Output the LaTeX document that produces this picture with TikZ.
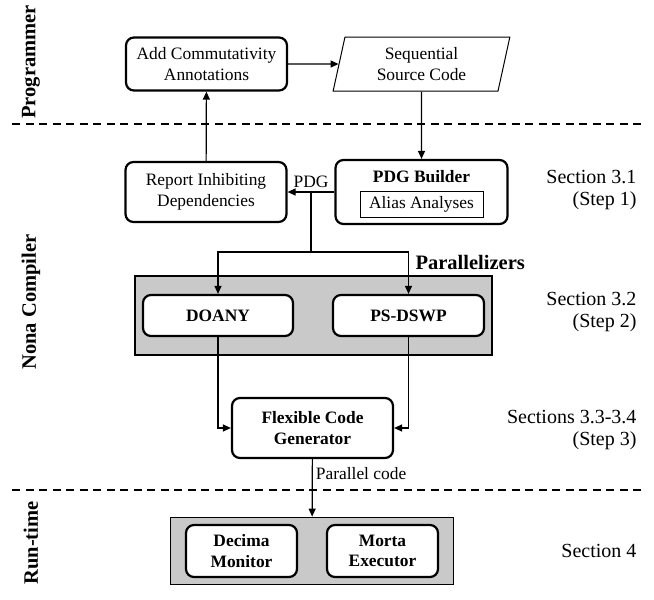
\documentclass[tikz,border=0pt]{standalone}
\usepackage{fontspec}
\setmainfont{Liberation Serif}
\usetikzlibrary{shapes.geometric}
\usetikzlibrary{arrows.meta}
\usetikzlibrary{positioning}
\usetikzlibrary{fit}
\usetikzlibrary{backgrounds}

\begin{document}
\begin{tikzpicture}[x = 1pt, y = -1pt, node distance = 215pt,
	font = \fontsize{17.4}{20.5}\selectfont,
	proc/.style = {draw, rounded corners = 8pt, line width = 2.2pt, align = center, inner sep = 2pt, fill = white},
	boldtxt/.style = {font = \fontsize{17.4}{20.5}\selectfont\bfseries},
	bigtxt/.style = {font = \fontsize{20.5}{23}\selectfont\bfseries},
	srccode/.style = {draw, trapezium, trapezium left angle = 78.5, trapezium right angle = 101.5,
		trapezium stretches = true, line width = 1pt, align = center,
		minimum width = 177pt, minimum height = 54pt, inner sep = 1pt},
	inbox/.style = {draw, line width = 1pt, minimum width = 123pt, minimum height = 26pt, inner sep = 1pt},
	graybox/.style = {draw, fill = black!21, line width = 1.6pt},
	sect/.style = {anchor = east, align = right, font = \fontsize{20}{22}\selectfont},
	side/.style = {rotate = 90, font = \fontsize{20.5}{23}\selectfont\bfseries},
	arr/.style = {-{Triangle[length = 8pt, width = 7pt]}, line width = 1.2pt},
	sepline/.style = {dashed, dash pattern = on 8pt off 5.5pt, line width = 1.6pt}]

\useasboundingbox (0,0) rectangle (654,600);

\node[proc, minimum width = 161pt, minimum height = 53pt] (addc) at (206.5,64) {Add Commutativity\\Annotations};
\node[srccode, right of=addc] (seq) {Sequential\\Source Code};

\node[proc, minimum width = 172pt, minimum height = 64pt, below of=seq, node distance = 128pt] (pdgb) {};
\node[boldtxt] (pdgbt) at ([yshift=-18pt]pdgb.north) {PDG Builder};
\node[inbox, below of=pdgb, node distance = 12pt] (alias) {Alias Analyses};
\node[proc, minimum width = 161pt, minimum height = 60pt, left of=pdgb, node distance = 215.5pt] (rep) {Report Inhibiting\\Dependencies};

\node[proc, boldtxt, minimum width = 150pt, minimum height = 41pt] (doany) at (218,315.5) {DOANY};
\node[proc, boldtxt, minimum width = 151pt, minimum height = 41pt, right of=doany, node distance = 190.5pt] (psdswp) {PS-DSWP};
\node[bigtxt, anchor = west] (parlab) at (412,262) {Parallelizers};

\node[proc, boldtxt, minimum width = 161pt, minimum height = 60pt] (fcg) at (312.5,428) {Flexible Code\\Generator};

\node[proc, boldtxt, minimum width = 111pt, minimum height = 52pt] (decima) at (241.5,551) {Decima\\Monitor};
\node[proc, boldtxt, minimum width = 111pt, minimum height = 52pt, right of=decima, node distance = 141pt] (morta) {Morta\\Executor};

\begin{scope}[on background layer]
\node[graybox, fit = (doany)(psdswp), inner xsep = 7pt, inner ysep = 18pt] (parbox) {};
\node[graybox, fit = (decima)(morta), inner xsep = 14.5pt, inner ysep = 6.5pt] (runbox) {};
\end{scope}

\node[sect] (sec1) at (640,190) {Section 3.1\\(Step 1)};
\node[sect] (sec2) at (640,312) {Section 3.2\\(Step 2)};
\node[sect] (sec3) at (640,430) {Sections 3.3-3.4\\(Step 3)};
\node[sect] (sec4) at (640,551) {Section 4};

\node[side] (lprog) at (31,62) {Programmer};
\node[side] (lcomp) at (31,302) {Nona Compiler};
\node[side] (lrun) at (31,543) {Run-time};

\draw[arr] (addc) -- (seq);
\draw[arr] (seq) -- (pdgb);
\draw[arr] (rep) -- (addc);
\draw[arr] (pdgb) -- node[above] {PDG} coordinate[midway] (pdgsplit) (rep);

\coordinate[below=60pt of pdgsplit] (fork);
\draw[line width = 1.2pt] (pdgsplit) -- (fork);
\draw[arr] (fork) -| (doany);
\draw[arr] (fork) -| (psdswp);

\draw[arr] (doany) |- (fcg);
\draw[arr] (psdswp) |- (fcg);
\draw[arr] (fcg) -- node[pos = 0.25, right, inner xsep = 3pt] {Parallel code} (runbox);

\draw[sepline] (12,124) -- (645,124);
\draw[sepline] (12,490) -- (645,490);

\end{tikzpicture}
\end{document}
